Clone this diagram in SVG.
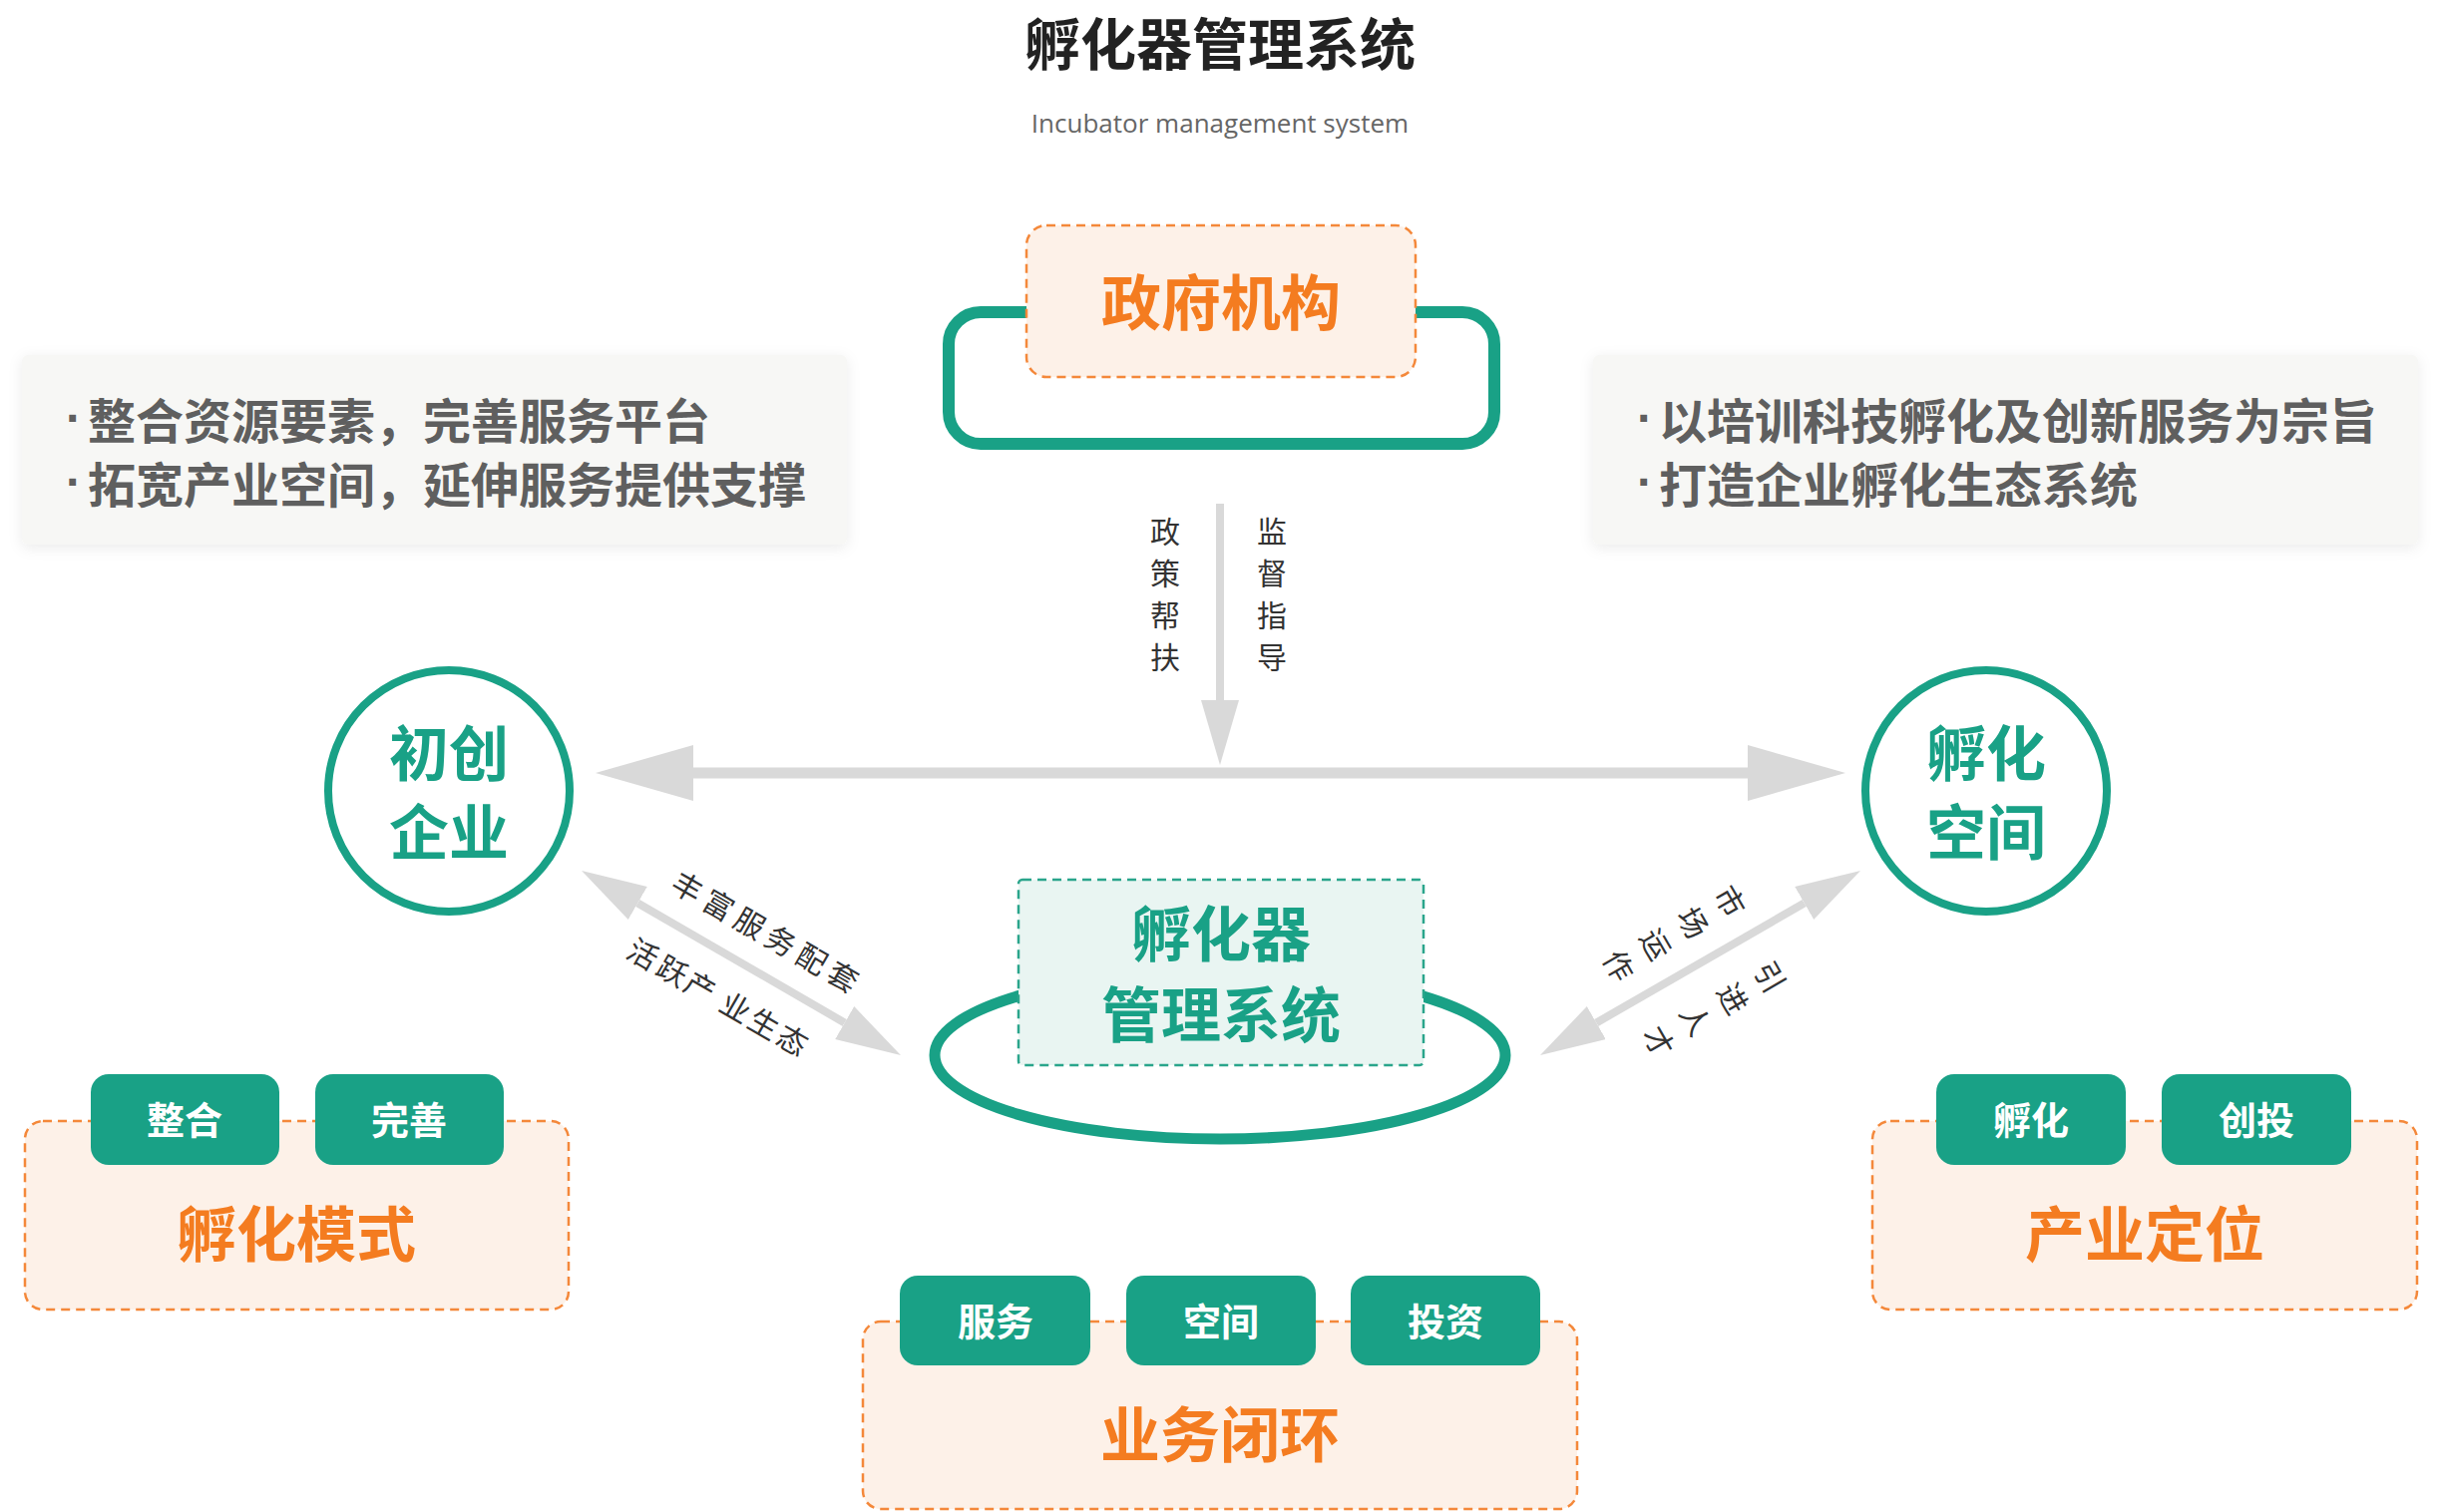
<svg xmlns="http://www.w3.org/2000/svg" width="2448" height="1516" viewBox="0 0 2448 1516">
<defs>
<style>
.cjk{font-family:"Noto Sans CJK SC","Noto Sans",sans-serif}
.title{font-size:56px;font-weight:700;fill:#222}
.sub{font-family:"Open Sans","Liberation Sans",sans-serif;font-size:26px;fill:#666}
.note{font-size:48px;font-weight:700;fill:#5f5f5f}
.dot{font-family:"Liberation Sans",sans-serif}
.bigo{font-size:60px;font-weight:700;fill:#f47c20}
.bigg{font-size:60px;font-weight:700;fill:#19a186}
.tagtxt{font-size:38px;font-weight:700;fill:#fff}
.lbl{font-size:30px;fill:#333}
.tag{fill:#19a186}
.obox{fill:#fdf1e8;stroke:#f4883a;stroke-width:2.5;stroke-dasharray:9 6}
.gbox{fill:#e9f5f2;stroke:#2aa58b;stroke-width:2.5;stroke-dasharray:9 6}
.ring{fill:none;stroke:#19a186}
.conn{stroke:#d9d9d9;fill:none}
.panel{fill:#f7f7f5}
</style>
<filter id="sh" x="-10%" y="-30%" width="120%" height="160%"><feDropShadow dx="0" dy="3" stdDeviation="7" flood-color="#000" flood-opacity="0.08"/></filter>
<marker id="hb" markerUnits="userSpaceOnUse" markerWidth="98" markerHeight="56" viewBox="0 0 98 56" refX="0" refY="28" orient="auto-start-reverse"><path d="M0,0 L98,28 L0,56 Z" fill="#d9d9d9"/></marker>
<marker id="hs" markerUnits="userSpaceOnUse" markerWidth="65" markerHeight="38" viewBox="0 0 65 38" refX="0" refY="19" orient="auto-start-reverse"><path d="M0,0 L65,19 L0,38 Z" fill="#d9d9d9"/></marker>
</defs>
<rect width="2448" height="1516" fill="#fff"/>

<g id="title">
<text class="cjk title" x="1223" y="40" text-anchor="middle" dominant-baseline="central">孵化器管理系统</text>
<text class="sub" x="1223" y="133" text-anchor="middle">Incubator management system</text>
</g>

<g id="note-left">
<rect class="panel" x="22" y="356" width="827" height="190" rx="6" filter="url(#sh)"/>
<text class="cjk note" y="419" dominant-baseline="central"><tspan class="dot" x="66">·</tspan><tspan x="88">整合资源要素，完善服务平台</tspan></text>
<text class="cjk note" y="483" dominant-baseline="central"><tspan class="dot" x="66">·</tspan><tspan x="88">拓宽产业空间，延伸服务提供支撑</tspan></text>
</g>

<g id="note-right">
<rect class="panel" x="1597" y="356" width="827" height="190" rx="6" filter="url(#sh)"/>
<text class="cjk note" y="419" dominant-baseline="central"><tspan class="dot" x="1641">·</tspan><tspan x="1663">以培训科技孵化及创新服务为宗旨</tspan></text>
<text class="cjk note" y="483" dominant-baseline="central"><tspan class="dot" x="1641">·</tspan><tspan x="1663">打造企业孵化生态系统</tspan></text>
</g>

<g id="connectors">
<line class="conn" x1="1223" y1="505" x2="1223" y2="702" stroke-width="8" marker-end="url(#hs)"/>
<line class="conn" x1="695" y1="775" x2="1752" y2="775" stroke-width="11" marker-start="url(#hb)" marker-end="url(#hb)"/>
<line class="conn" x1="639.3" y1="905.5" x2="846.7" y2="1025.5" stroke-width="8" marker-start="url(#hs)" marker-end="url(#hs)"/>
<line class="conn" x1="1600.3" y1="1025.5" x2="1808.7" y2="905.5" stroke-width="8" marker-start="url(#hs)" marker-end="url(#hs)"/>
<g class="cjk lbl" text-anchor="middle" dominant-baseline="central">
<text x="1168" y="531">政</text><text x="1168" y="573">策</text><text x="1168" y="615">帮</text><text x="1168" y="657">扶</text>
<text x="1275" y="531">监</text><text x="1275" y="573">督</text><text x="1275" y="615">指</text><text x="1275" y="657">导</text>
<g transform="translate(768,933) rotate(30)"><text x="-90" y="0">丰</text><text x="-54" y="0">富</text><text x="-18" y="0">服</text><text x="18" y="0">务</text><text x="54" y="0">配</text><text x="90" y="0">套</text></g>
<g transform="translate(720,998) rotate(30)"><text x="-86" y="0">活</text><text x="-52" y="0">跃</text><text x="-20" y="0">产</text><text x="21" y="0">业</text><text x="54" y="0">生</text><text x="87" y="0">态</text></g>
<g transform="translate(1680,935) rotate(60)"><text x="0" y="-64.5">市</text><text x="0" y="-21.5">场</text><text x="0" y="21.5">运</text><text x="0" y="64.5">作</text></g>
<g transform="translate(1720,1011) rotate(60)"><text x="0" y="-64.5">引</text><text x="0" y="-21.5">进</text><text x="0" y="21.5">人</text><text x="0" y="64.5">才</text></g>
</g>
</g>

<g id="gov">
<rect x="951" y="313" width="547" height="132" rx="32" fill="none" stroke="#19a186" stroke-width="12"/>
<rect class="obox" x="1029" y="226" width="390" height="152" rx="20"/>
<text class="cjk bigo" x="1224" y="299" text-anchor="middle" dominant-baseline="central">政府机构</text>
</g>

<g id="startup">
<circle class="ring" cx="450" cy="793" r="121" stroke-width="8"/>
<text class="cjk bigg" x="450" y="751" text-anchor="middle" dominant-baseline="central">初创</text>
<text class="cjk bigg" x="450" y="830" text-anchor="middle" dominant-baseline="central">企业</text>
</g>

<g id="space">
<circle class="ring" cx="1991" cy="793" r="121" stroke-width="8"/>
<text class="cjk bigg" x="1991" y="751" text-anchor="middle" dominant-baseline="central">孵化</text>
<text class="cjk bigg" x="1991" y="830" text-anchor="middle" dominant-baseline="central">空间</text>
</g>

<g id="system">
<ellipse class="ring" cx="1223" cy="1058" rx="286" ry="84" stroke-width="11"/>
<rect class="gbox" x="1021" y="882" width="406" height="186" rx="4"/>
<text class="cjk bigg" x="1224" y="932" text-anchor="middle" dominant-baseline="central">孵化器</text>
<text class="cjk bigg" x="1224" y="1013" text-anchor="middle" dominant-baseline="central">管理系统</text>
</g>

<g id="mode">
<rect class="obox" x="25" y="1124" width="545" height="189" rx="18"/>
<rect class="tag" x="91" y="1077" width="189" height="91" rx="18"/>
<rect class="tag" x="316" y="1077" width="189" height="91" rx="18"/>
<text class="cjk tagtxt" x="185" y="1120" text-anchor="middle" dominant-baseline="central">整合</text>
<text class="cjk tagtxt" x="410" y="1120" text-anchor="middle" dominant-baseline="central">完善</text>
<text class="cjk bigo" x="297" y="1233" text-anchor="middle" dominant-baseline="central">孵化模式</text>
</g>

<g id="position">
<rect class="obox" x="1877" y="1124" width="546" height="189" rx="18"/>
<rect class="tag" x="1941" y="1077" width="190" height="91" rx="18"/>
<rect class="tag" x="2167" y="1077" width="190" height="91" rx="18"/>
<text class="cjk tagtxt" x="2036" y="1120" text-anchor="middle" dominant-baseline="central">孵化</text>
<text class="cjk tagtxt" x="2262" y="1120" text-anchor="middle" dominant-baseline="central">创投</text>
<text class="cjk bigo" x="2150" y="1233" text-anchor="middle" dominant-baseline="central">产业定位</text>
</g>

<g id="loop">
<rect class="obox" x="865" y="1325" width="716" height="188" rx="18"/>
<rect class="tag" x="902" y="1279" width="191" height="90" rx="18"/>
<rect class="tag" x="1129" y="1279" width="190" height="90" rx="18"/>
<rect class="tag" x="1354" y="1279" width="190" height="90" rx="18"/>
<text class="cjk tagtxt" x="998" y="1322" text-anchor="middle" dominant-baseline="central">服务</text>
<text class="cjk tagtxt" x="1224" y="1322" text-anchor="middle" dominant-baseline="central">空间</text>
<text class="cjk tagtxt" x="1449" y="1322" text-anchor="middle" dominant-baseline="central">投资</text>
<text class="cjk bigo" x="1223" y="1434" text-anchor="middle" dominant-baseline="central">业务闭环</text>
</g>
</svg>
